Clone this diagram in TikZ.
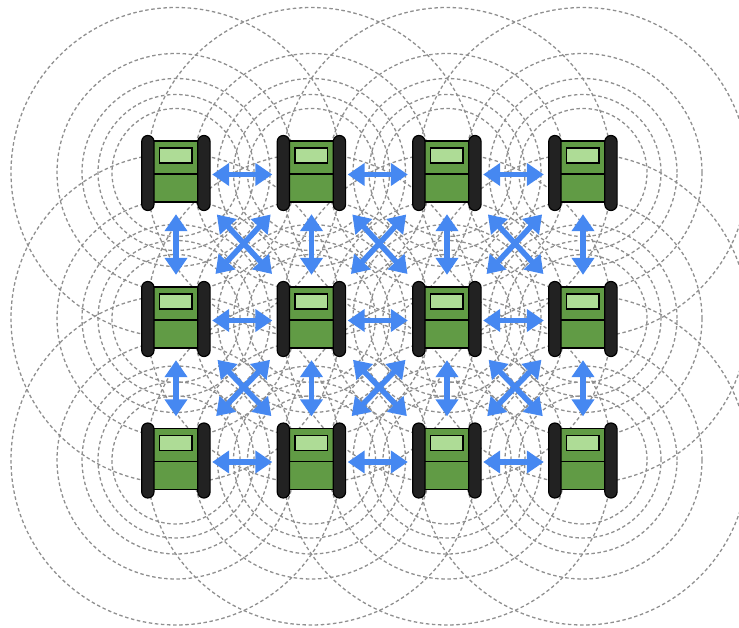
\documentclass[tikz,border=0pt]{standalone}
\usetikzlibrary{arrows.meta}

\definecolor{ringgray}{HTML}{8F8F8F}
\definecolor{linkblue}{HTML}{4688F1}
\definecolor{roverbodyfill}{HTML}{619B45}
\definecolor{roverscreenfill}{HTML}{AEDC96}
\definecolor{rovertrackfill}{HTML}{222222}

\tikzset{
  ring/.style={draw=ringgray, line width=1.3pt, dash pattern=on 3.5pt off 2.6pt},
  link/.style={draw=linkblue, line width=5.5pt,
    {Triangle[length=17pt,width=22pt]}-{Triangle[length=17pt,width=22pt]}},
  hub/.style={rectangle, inner sep=0pt, minimum width=68pt, minimum height=75pt},
  roverbody/.style={draw=black, line width=1.5pt, fill=roverbodyfill},
  roverscreen/.style={draw=black, line width=1.5pt, fill=roverscreenfill},
  rovertrack/.style={draw=black, line width=1.2pt, fill=rovertrackfill, rounded corners=6.1pt},
  rover/.pic={
    \path[roverbody] (-22.5,-31.5) rectangle (22.5,29.5);
    \draw[line width=1.6pt] (-22.5,1.3) -- (22.5,1.3);
    \path[roverscreen] (-16.3,-24.3) rectangle (16,-9.7);
    \path[rovertrack] (-34.3,-37) rectangle (-22,38);
    \path[rovertrack] (21.8,-37) rectangle (34.1,38);
  }
}

\begin{document}
\begin{tikzpicture}[x=1pt,y=-1pt]
  \useasboundingbox (0,0) rectangle (739,628);
  \clip (0,0) rectangle (739,628);

  % anchor nodes of the 4 x 3 team
  \foreach \c/\x in {1/176,2/311.5,3/447,4/583}{
    \foreach \r/\y in {1/172.5,2/318.5,3/460}{
      \node[hub] (r\r\c) at (\x,\y) {};
    }
  }

  % communication ranges around every unit
  \foreach \r in {1,2,3}{
    \foreach \c in {1,2,3,4}{
      \foreach \rad in {64,78,94,119,165}{
        \draw[ring] (r\r\c) circle (\rad pt);
      }
    }
  }

  % horizontal links
  \foreach \r in {1,2,3}{
    \foreach \c/\n in {1/2,2/3,3/4}{
      \draw[link, shorten <=2pt, shorten >=5pt] ([yshift=-2pt]r\r\c.east) -- ([yshift=-2pt]r\r\n.west);
    }
  }

  % vertical links
  \foreach \r/\s in {1/2,2/3}{
    \foreach \c in {1,2,3,4}{
      \draw[link, shorten <=4pt, shorten >=6pt] (r\r\c.south) -- (r\s\c.north);
    }
  }

  % diagonal links
  \foreach \r/\s in {1/2,2/3}{
    \foreach \c/\n in {1/2,2/3,3/4}{
      \draw[link, shorten <=60pt, shorten >=58pt] ([yshift=2pt]r\r\c.center) -- ([yshift=2pt]r\s\n.center);
      \draw[link, shorten <=60pt, shorten >=58pt] ([yshift=2pt]r\r\n.center) -- ([yshift=2pt]r\s\c.center);
    }
  }

  % the units themselves
  \foreach \r in {1,2,3}{
    \foreach \c in {1,2,3,4}{
      \pic at (r\r\c) {rover};
    }
  }
\end{tikzpicture}
\end{document}
